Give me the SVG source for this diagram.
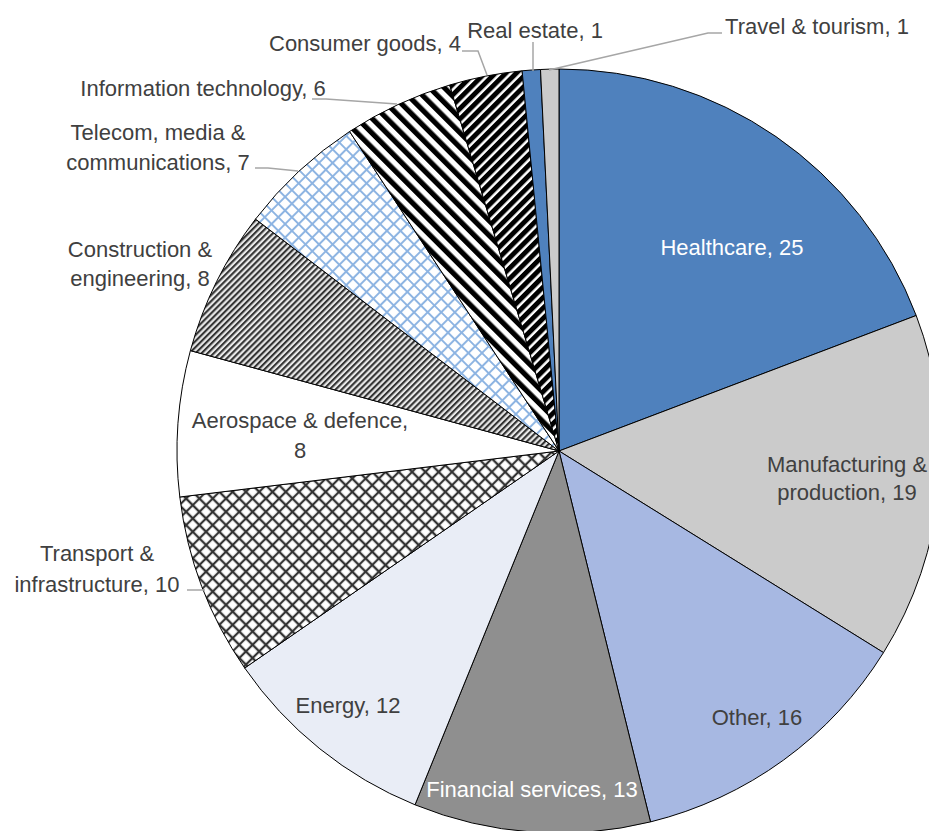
<svg xmlns="http://www.w3.org/2000/svg" width="929" height="831" viewBox="0 0 929 831">
<style>
.sl{stroke:#000;stroke-width:1;stroke-linejoin:round}
.lb{font-family:"Liberation Sans",Arial,sans-serif;font-size:22px;fill:#404040;text-anchor:middle}
.lw{fill:#ffffff}
.ld{fill:none;stroke:#a6a6a6;stroke-width:1.5}
</style>
<defs>
<pattern id="pTransport" patternUnits="userSpaceOnUse" width="9.4" height="9.4" patternTransform="rotate(45)">
<rect width="9.4" height="9.4" fill="#fff"/>
<path d="M0 4.7H9.4M4.7 0V9.4" stroke="#333" stroke-width="2.2"/>
</pattern>
<pattern id="pTelecom" patternUnits="userSpaceOnUse" width="9.6" height="9.6" patternTransform="rotate(45)">
<rect width="9.6" height="9.6" fill="#fff"/>
<path d="M0 4.8H9.6M4.8 0V9.6" stroke="#8DB4E2" stroke-width="2"/>
</pattern>
<pattern id="pConstr" patternUnits="userSpaceOnUse" width="4.3" height="4.3" patternTransform="rotate(45)">
<rect width="4.3" height="4.3" fill="#e8e8e8"/>
<rect x="0" y="0" width="2.1" height="4.3" fill="#333"/>
</pattern>
<pattern id="pIT" patternUnits="userSpaceOnUse" width="10.4" height="10.4" patternTransform="rotate(-45)">
<rect width="10.4" height="10.4" fill="#fff"/>
<rect width="5.2" height="10.4" fill="#000"/>
</pattern>
<pattern id="pCons" patternUnits="userSpaceOnUse" width="7.4" height="7.4" patternTransform="rotate(45)">
<rect width="7.4" height="7.4" fill="#fff"/>
<rect width="4.9" height="7.4" fill="#000"/>
</pattern>
</defs>
<rect width="929" height="831" fill="#ffffff"/>
<g id="slices">
<g id="healthcare"><path class="sl" fill="#4F81BD" d="M559 451L559 69A382 382 0 0 1 916.2 315.5Z"/></g>
<g id="manufacturing"><path class="sl" fill="#CBCBCB" d="M559 451L916.2 315.5A382 382 0 0 1 883.5 652.6Z"/></g>
<g id="other"><path class="sl" fill="#A7B8E2" d="M559 451L883.5 652.6A382 382 0 0 1 650.5 821.9Z"/></g>
<g id="financial"><path class="sl" fill="#8F8F8F" d="M559 451L650.5 821.9A382 382 0 0 1 415 804.8Z"/></g>
<g id="energy"><path class="sl" fill="#E9EDF6" d="M559 451L415 804.8A382 382 0 0 1 244.7 668Z"/></g>
<g id="transport"><path class="sl" fill="url(#pTransport)" d="M559 451L244.7 668A382 382 0 0 1 179.8 497Z"/></g>
<g id="aerospace"><path class="sl" fill="#ffffff" d="M559 451L179.8 497A382 382 0 0 1 190.4 350.6Z"/></g>
<g id="construction"><path class="sl" fill="url(#pConstr)" d="M559 451L190.4 350.6A382 382 0 0 1 255.5 219.1Z"/></g>
<g id="telecom"><path class="sl" fill="url(#pTelecom)" d="M559 451L255.5 219.1A382 382 0 0 1 349.6 131.5Z"/></g>
<g id="it"><path class="sl" fill="url(#pIT)" d="M559 451L349.6 131.5A382 382 0 0 1 449.7 85Z"/></g>
<g id="consumer"><path class="sl" fill="url(#pCons)" d="M559 451L449.7 85A382 382 0 0 1 522.1 70.8Z"/></g>
<g id="realestate"><path class="sl" fill="#4F81BD" d="M559 451L522.1 70.8A382 382 0 0 1 540.5 69.5Z"/></g>
<g id="travel"><path class="sl" fill="#CBCBCB" d="M559 451L540.5 69.5A382 382 0 0 1 559 69Z"/></g>
</g>
<g id="connectors">
<polyline class="ld" points="549,70 708,33 722,33"/>
<polyline class="ld" points="533,42 533,71"/>
<polyline class="ld" points="462,51 478,51 487,75"/>
<polyline class="ld" points="312,99 326,99 397,104"/>
<polyline class="ld" points="255,168 268,168 298,171"/>
<polyline class="ld" points="187,590 205,590"/>
</g>
<g id="labels">
<text class="lb lw" x="732" y="255">Healthcare, 25</text>
<text class="lb" x="847" y="472">Manufacturing &amp;</text>
<text class="lb" x="847" y="500">production, 19</text>
<text class="lb" x="757" y="725">Other, 16</text>
<text class="lb lw" x="532" y="797">Financial services, 13</text>
<text class="lb" x="348" y="713">Energy, 12</text>
<text class="lb" x="97" y="561">Transport &amp;</text>
<text class="lb" x="97" y="592">infrastructure, 10</text>
<text class="lb" x="300" y="428">Aerospace &amp; defence,</text>
<text class="lb" x="300" y="458">8</text>
<text class="lb" x="140" y="257">Construction &amp;</text>
<text class="lb" x="140" y="286">engineering, 8</text>
<text class="lb" x="158" y="140">Telecom, media &amp;</text>
<text class="lb" x="158" y="170">communications, 7</text>
<text class="lb" x="203" y="96">Information technology, 6</text>
<text class="lb" x="365" y="51">Consumer goods, 4</text>
<text class="lb" x="535" y="38">Real estate, 1</text>
<text class="lb" x="817" y="34">Travel &amp; tourism, 1</text>
</g>
</svg>
